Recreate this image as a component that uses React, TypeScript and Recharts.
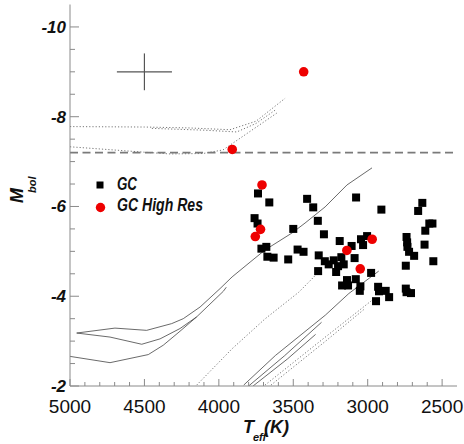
import React from 'react';
import { ComposedChart, XAxis, YAxis, Scatter, Line, ReferenceLine } from 'recharts';

const FONT = '"Liberation Sans", Arial, Helvetica, sans-serif';
const AXIS = '#8a8a8a';

// GC (black squares)
const gcTeff = [3737, 3661, 3760, 3740, 3714, 3681, 3674, 3632, 3534, 3500, 3471, 3431, 3407, 3366, 3335, 3294, 3329, 3288, 3262, 3228, 3333, 3212, 3161, 3177, 3188, 3108, 3088, 3045, 3004, 3031, 3172, 3139, 3132, 3080, 3049, 3053, 2977, 2930, 2924, 2879, 2856, 2944, 3078, 2908, 2739, 2735, 2733, 2722, 2688, 2744, 2744, 2739, 2709, 2633, 2661, 2586, 2565, 2613, 2618, 2559, 3199];
const gcMbol = [-6.29, -6.09, -5.74, -5.62, -5.06, -5.10, -4.88, -4.86, -4.82, -5.50, -5.04, -4.99, -6.17, -5.98, -5.68, -5.38, -4.91, -4.78, -4.71, -4.80, -4.56, -4.54, -4.71, -4.87, -5.23, -5.12, -4.85, -5.27, -5.34, -5.14, -4.24, -4.36, -4.24, -4.38, -4.22, -4.12, -4.52, -4.21, -4.11, -4.12, -3.98, -3.89, -6.20, -5.93, -5.32, -5.20, -5.10, -4.99, -4.90, -4.68, -4.17, -4.09, -4.07, -6.08, -5.90, -5.62, -5.62, -5.46, -5.15, -4.78, -4.67];

// GC High Res (red circles)
const hiTeff = [3430, 3910, 3710, 3720, 3755, 3140, 2970, 3050];
const hiMbol = [-9.0, -7.27, -6.48, -5.49, -5.33, -5.02, -5.27, -4.61];

// isochrone tracks [Teff, Mbol]
const solidA: [number, number][] = [[4955, -3.18], [4698, -3.29], [4485, -3.24], [4317, -3.39], [4239, -3.5], [4126, -3.76], [3992, -4.17], [3911, -4.43], [3790, -4.76], [3690, -5.03], [3508, -5.41], [3421, -5.63], [3286, -5.99], [3139, -6.48], [2971, -6.86]];
const solidB: [number, number][] = [[4955, -3.18], [4731, -3.09], [4518, -2.93], [4395, -3.05], [4261, -3.28], [4149, -3.54], [3970, -4.11], [3950, -4.2]];
const solidC: [number, number][] = [[5000, -2.66], [4731, -2.52], [4474, -2.7], [4373, -2.91], [4261, -3.22], [4149, -3.54]];
const solidD: [number, number][] = [[3833, -2.02], [3620, -2.68], [3284, -3.58], [3127, -4.06], [2926, -4.56]];
const solidE: [number, number][] = [[3800, -2.0], [3560, -2.67], [3310, -3.42]];
const solidF: [number, number][] = [[3770, -2.0], [3540, -2.6], [3350, -3.15]];
const dotA: [number, number][] = [[4149, -2.02], [3911, -2.83], [3688, -3.5], [3463, -4.09], [3329, -4.54]];
const dotB: [number, number][] = [[3690, -2.02], [3300, -3.05], [2971, -3.91]];
const dotC: [number, number][] = [[3650, -2.02], [3290, -2.98], [3020, -3.72]];
const dotTop1: [number, number][] = [[5000, -7.78], [4500, -7.77], [4200, -7.75], [3925, -7.71], [3750, -7.9], [3555, -8.41]];
const dotTop2: [number, number][] = [[4450, -7.74], [4100, -7.7], [3880, -7.66], [3750, -7.85], [3620, -8.15]];
const dotTop3: [number, number][] = [[5000, -7.33], [4462, -7.2], [4328, -7.17], [4106, -7.18], [3972, -7.26], [3743, -7.78], [3611, -8.08]];

const limitMbol = -7.2;
const errCenter = { t: 4500, m: -9.0 };
const errT = 185;
const errM = 0.41;

const xTicks = [5000, 4900, 4800, 4700, 4600, 4500, 4400, 4300, 4200, 4100, 4000, 3900, 3800, 3700, 3600, 3500, 3400, 3300, 3200, 3100, 3000, 2900, 2800, 2700, 2600, 2500];
const xLabels = [5000, 4500, 4000, 3500, 3000, 2500];
const yTicks = [-10, -9.5, -9, -8.5, -8, -7.5, -7, -6.5, -6, -5.5, -5, -4.5, -4, -3.5, -3, -2.5, -2];
const yLabels = [-10, -8, -6, -4, -2];

const toPts = (a: [number, number][]) => a.map(([t, m]) => ({ t, m }));
const gcData = gcTeff.map((t, i) => ({ t, m: gcMbol[i] }));
const hiData = hiTeff.map((t, i) => ({ t, m: hiMbol[i] }));

const solids = [solidA, solidB, solidC, solidD, solidE, solidF];
const dots = [dotA, dotB, dotC, dotTop1, dotTop2, dotTop3];

const BottomTick = (p: any) => {
  const { x, y, payload } = p;
  const major = xLabels.includes(payload.value);
  return (
    <g>
      <line x1={x} x2={x} y1={y} y2={y - (major ? 7 : 4)} stroke={AXIS} strokeWidth={1} />
      {major && (
        <text x={x} y={y + 27} textAnchor="middle" fontFamily={FONT} fontSize={19} fill="#111">
          {payload.value}
        </text>
      )}
    </g>
  );
};
const TopTick = (p: any) => {
  const { x, y, payload } = p;
  const major = xLabels.includes(payload.value);
  return <line x1={x} x2={x} y1={y} y2={y + (major ? 7 : 4)} stroke={AXIS} strokeWidth={1} />;
};
const LeftTick = (p: any) => {
  const { x, y, payload } = p;
  const major = yLabels.includes(payload.value);
  return (
    <g>
      <line x1={x} x2={x + (major ? 9 : 5)} y1={y} y2={y} stroke={AXIS} strokeWidth={1} />
      {major && (
        <text x={x - 4} y={y + 6} textAnchor="end" fontFamily={FONT} fontSize={17} fontWeight="bold" fontStyle="italic" fill="#111">
          {payload.value}
        </text>
      )}
    </g>
  );
};
const RightTick = (p: any) => {
  const { x, y, payload } = p;
  const major = yLabels.includes(payload.value);
  return <line x1={x} x2={x - (major ? 9 : 5)} y1={y} y2={y} stroke={AXIS} strokeWidth={1} />;
};

const SquareShape = (p: any) => <rect x={p.cx - 4} y={p.cy - 4} width={8} height={8} fill="#000" />;
const CircleShape = (p: any) => <circle cx={p.cx} cy={p.cy} r={4.8} fill="#ee0000" />;

export default function App() {
  return (
    <div style={{ position: 'absolute', left: 0, top: 0, width: 464, height: 444, background: '#fff' }}>
      <ComposedChart width={464} height={444} margin={{ top: 4.5, right: 7, bottom: 0, left: 0 }}>
        <XAxis
          dataKey="t"
          type="number"
          domain={[2400, 5000]}
          reversed
          allowDataOverflow
          ticks={xTicks}
          interval={0}
          tick={<BottomTick />}
          tickLine={false}
          tickSize={0}
          tickMargin={0}
          height={58}
          axisLine={{ stroke: AXIS }}
        />
        <XAxis
          xAxisId="top"
          orientation="top"
          type="number"
          domain={[2400, 5000]}
          reversed
          allowDataOverflow
          ticks={xTicks}
          interval={0}
          tick={<TopTick />}
          tickLine={false}
          tickSize={0}
          tickMargin={0}
          height={0}
          axisLine={{ stroke: AXIS }}
        />
        <YAxis
          dataKey="m"
          type="number"
          domain={[-10.5, -2]}
          reversed
          allowDataOverflow
          ticks={yTicks}
          interval={0}
          tick={<LeftTick />}
          tickLine={false}
          tickSize={0}
          tickMargin={0}
          width={70}
          axisLine={{ stroke: AXIS }}
        />
        <YAxis
          yAxisId="right"
          orientation="right"
          type="number"
          domain={[-10.5, -2]}
          reversed
          allowDataOverflow
          ticks={yTicks}
          interval={0}
          tick={<RightTick />}
          tickLine={false}
          tickSize={0}
          tickMargin={0}
          width={0}
          axisLine={{ stroke: AXIS }}
        />
        {dots.map((d, i) => (
          <Line
            key={'d' + i}
            data={toPts(d)}
            dataKey="m"
            type="linear"
            stroke="#777"
            strokeWidth={1}
            strokeDasharray="1.2 2"
            dot={false}
            activeDot={false}
            isAnimationActive={false}
            legendType="none"
          />
        ))}
        {solids.map((d, i) => (
          <Line
            key={'s' + i}
            data={toPts(d)}
            dataKey="m"
            type="linear"
            stroke="#444"
            strokeWidth={0.8}
            dot={false}
            activeDot={false}
            isAnimationActive={false}
            legendType="none"
          />
        ))}
        <ReferenceLine y={limitMbol} stroke="#7a7a7a" strokeWidth={1.8} strokeDasharray="8 4.5" />
        <ReferenceLine
          segment={[{ x: errCenter.t + errT, y: errCenter.m }, { x: errCenter.t - errT, y: errCenter.m }]}
          stroke="#555"
          strokeWidth={1.2}
        />
        <ReferenceLine
          segment={[{ x: errCenter.t, y: errCenter.m - errM }, { x: errCenter.t, y: errCenter.m + errM }]}
          stroke="#555"
          strokeWidth={1.2}
        />
        <Scatter data={gcData} shape={<SquareShape />} isAnimationActive={false} />
        <Scatter data={hiData} shape={<CircleShape />} isAnimationActive={false} />
      </ComposedChart>
      <svg width={464} height={444} style={{ position: 'absolute', left: 0, top: 0, pointerEvents: 'none' }}>
        <text transform="translate(23,203) rotate(-90)" fontFamily={FONT} fontSize={18} fontWeight="bold" fontStyle="italic" fill="#111">M</text>
        <text transform="translate(36,193) rotate(-90)" fontFamily={FONT} fontSize={11} fontWeight="bold" fontStyle="italic" fill="#111">bol</text>
        <text x={243} y={433} fontFamily={FONT} fontSize={18} fontWeight="bold" fontStyle="italic" fill="#111">T</text>
        <text x={253} y={441} fontFamily={FONT} fontSize={11} fontWeight="bold" fontStyle="italic" fill="#111">eff</text>
        <text x={264} y={433} fontFamily={FONT} fontSize={18} fontWeight="bold" fontStyle="italic" fill="#111">(K)</text>
        <rect x={96.5} y={181.5} width={7} height={7} fill="#000" />
        <text x={117} y={190} fontFamily={FONT} fontSize={18} fontWeight="bold" fontStyle="italic" fill="#111" textLength={20} lengthAdjust="spacingAndGlyphs">GC</text>
        <circle cx={100.5} cy={207.5} r={4.7} fill="#ee0000" />
        <text x={117} y={211} fontFamily={FONT} fontSize={18} fontWeight="bold" fontStyle="italic" fill="#111" textLength={86} lengthAdjust="spacingAndGlyphs">GC High Res</text>
      </svg>
    </div>
  );
}
